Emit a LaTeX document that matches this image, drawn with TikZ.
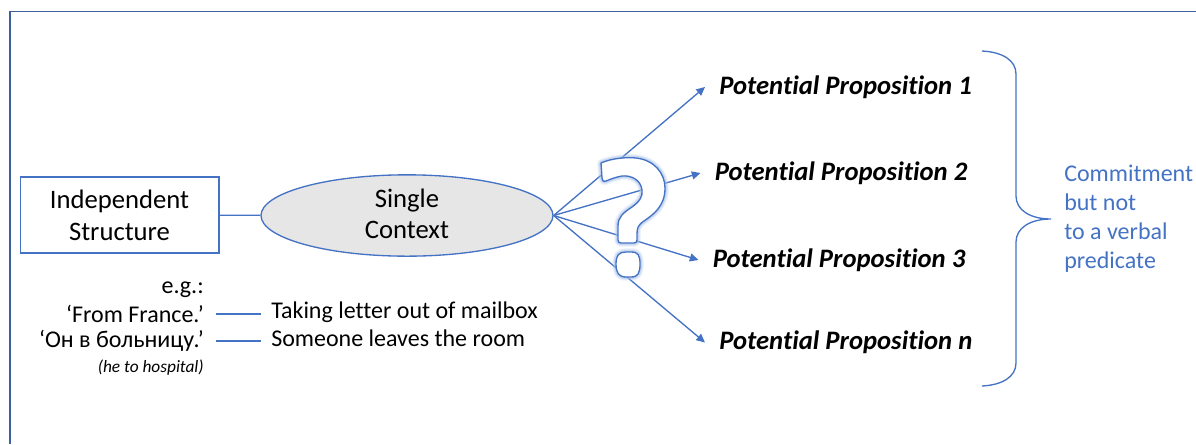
\documentclass[tikz,border=0pt]{standalone}
\usepackage{fontspec}
\setmainfont[Ligatures=NoCommon]{Carlito}
\usetikzlibrary{shapes.geometric,arrows.meta}
\definecolor{ppblue}{HTML}{4472C4}
\definecolor{framecol}{HTML}{3F5F9F}
\definecolor{ellfill}{HTML}{E7E6E6}
\definecolor{glowcol}{HTML}{A9C2EA}
\tikzset{
  blueline/.style={draw=ppblue,line width=1pt},
  arrowline/.style={blueline,-{Triangle[length=6.5pt,width=6pt]}},
  ptext/.style={font=\fontsize{20}{24}\selectfont\bfseries\itshape,anchor=west,inner xsep=10.5pt,inner ysep=0pt},
  srctext/.style={font=\fontsize{18}{22}\selectfont,anchor=east,inner xsep=9pt,inner ysep=0pt},
  gloss/.style={font=\fontsize{18}{22}\selectfont,anchor=west,inner xsep=7.5pt,inner ysep=0pt},
}
\newcommand{\qmarkbody}{(601,163) .. controls (612,158) and (628,157) .. (636,158)
  .. controls (654,160) and (665,173) .. (665,188)
  .. controls (665,206) and (654,214) .. (644,221)
  .. controls (638,225) and (637,228) .. (637,234)
  -- (637,240) .. controls (637,242) and (636,243) .. (634,243)
  -- (621,243) .. controls (619,243) and (618,242) .. (618,240)
  -- (618,226) .. controls (618,217) and (623,213) .. (632,207)
  .. controls (639,202) and (643,197) .. (642,190)
  .. controls (641,180) and (631,175) .. (622,176)
  .. controls (616,177) and (611,179) .. (606,181)
  .. controls (603,182) and (602,180) .. (602,178) -- cycle}
\newcommand{\qmarkdot}{(616,264) .. controls (616,255) and (619,252) .. (626,252)
  -- (631,252) .. controls (638,252) and (640,255) .. (640,264)
  .. controls (640,273) and (638,277) .. (631,277)
  -- (626,277) .. controls (619,277) and (616,273) .. (616,264) -- cycle}
\begin{document}
\begin{tikzpicture}[x=0.75pt,y=-0.75pt]
\useasboundingbox (0,0) rectangle (1196,444);
% frame
\draw[framecol,line width=0.8pt] (1196,11.5) -- (10,11.5);
\draw[framecol,line width=1.1pt] (10,11) -- (10,444);
% main nodes
\node[draw=ppblue,line width=1pt,minimum width=149pt,minimum height=57pt,inner sep=0pt,font=\fontsize{20}{24}\selectfont] (src) at (119.5,215) {\raisebox{-2.2pt}[\height][\depth]{\begin{tabular}{@{}c@{}}Independent\\Structure\end{tabular}}};
\node[ellipse,draw=ppblue,line width=1pt,fill=ellfill,minimum width=219pt,minimum height=61pt,inner xsep=0pt,inner ysep=-6pt,font=\fontsize{20}{23.25}\selectfont] (ctx) at (407,215.5) {\raisebox{-0.7pt}[\height][\depth]{\begin{tabular}{@{}c@{}}Single\\Context\end{tabular}}};
\draw[blueline] (src) -- (ctx);
% propositions
\node[ptext] (p1) at (705,87) {Potential Proposition 1};
\node[ptext] (p2) at (700.5,173) {Potential Proposition 2};
\node[ptext] (p3) at (698.5,260) {Potential Proposition 3};
\node[ptext] (p4) at (705,342.5) {Potential Proposition n};
\foreach \t in {p1,p2,p3,p4}{\draw[arrowline] (ctx.east) -- (\t.west);}
% question mark
\foreach \w/\o in {6pt/0.15,4.5pt/0.25,3pt/0.45}{
  \draw[glowcol,line width=\w,opacity=\o,line join=round] \qmarkbody;
  \draw[glowcol,line width=\w,opacity=\o,line join=round] \qmarkdot;
}
\draw[blueline,fill=white,line join=round] \qmarkbody;
\draw[blueline,fill=white,line join=round] \qmarkdot;
% brace
\coordinate (bt) at (982,51);
\coordinate (bm) at (1051,219);
\coordinate (bb) at (982,386);
\draw[blueline] (bt) .. controls (1002,52) and (1016,60) .. (1016,74) -- (1016,196)
  .. controls (1016,210) and (1030,219) .. (bm)
  .. controls (1030,219) and (1016,228) .. (1016,242) -- (1016,363)
  .. controls (1016,377) and (1002,385) .. (bb);
\node[anchor=west,inner sep=0pt,align=left,text=ppblue,font=\fontsize{18}{21.75}\selectfont] (commit) at (1064,219) {Commitment\\but not\\to a verbal\\predicate};
% examples
\node[srctext] (eg) at (216,290) {e.g.:};
\node[srctext] (ex1) at (216,313.5) {‘From France.’};
\node[srctext] (ex2) at (216,340.5) {‘Он в больницу.’};
\node[srctext,font=\fontsize{13}{15}\selectfont\itshape] (ex3) at (216,367.5) {(he to hospital)};
\node[gloss] (g1) at (261,312) {Taking letter out of mailbox};
\node[gloss] (g2) at (261,338.5) {Someone leaves the room};
\draw[blueline] (ex1.east |- 0,314) -- (g1.west |- 0,314);
\draw[blueline] (ex2.east |- 0,341) -- (g2.west |- 0,341);
\end{tikzpicture}
\end{document}
